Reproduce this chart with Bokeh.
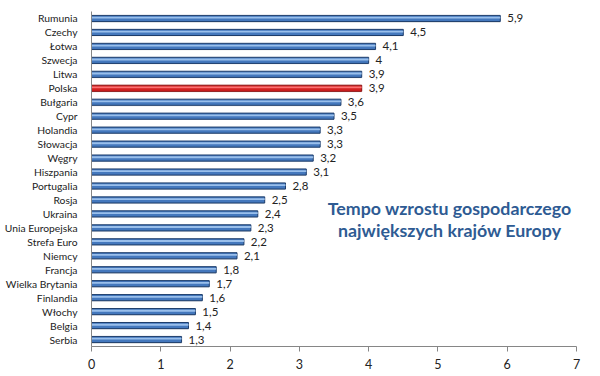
from bokeh.plotting import figure
from bokeh.models import ColumnDataSource, FactorRange, Label, FixedTicker
from bokeh.transform import dodge
from bokeh.core.properties import value
from bokeh.embed import file_html
from bokeh.resources import INLINE

countries = ["Rumunia", "Czechy", "Łotwa", "Szwecja", "Litwa", "Polska", "Bułgaria", "Cypr",
             "Holandia", "Słowacja", "Węgry", "Hiszpania", "Portugalia", "Rosja", "Ukraina",
             "Unia Europejska", "Strefa Euro", "Niemcy", "Francja", "Wielka Brytania",
             "Finlandia", "Włochy", "Belgia", "Serbia"]
growth = [5.9, 4.5, 4.1, 4.0, 3.9, 3.9, 3.6, 3.5, 3.3, 3.3, 3.2, 3.1, 2.8, 2.5, 2.4,
          2.3, 2.2, 2.1, 1.8, 1.7, 1.6, 1.5, 1.4, 1.3]
labels = ["5,9", "4,5", "4,1", "4", "3,9", "3,9", "3,6", "3,5", "3,3", "3,3", "3,2", "3,1",
          "2,8", "2,5", "2,4", "2,3", "2,2", "2,1", "1,8", "1,7", "1,6", "1,5", "1,4", "1,3"]
highlight = "Polska"
x_ticks = [0, 1, 2, 3, 4, 5, 6, 7]
title_lines = ["Tempo wzrostu gospodarczego", "największych krajów Europy"]

fill = ["#d42020" if c == highlight else "#4478bd" for c in countries]
edge = ["#8a0e0e" if c == highlight else "#1d3d6b" for c in countries]
shine = ["#ff7a7a" if c == highlight else "#a3c6f0" for c in countries]

src = ColumnDataSource(dict(cat=countries, val=growth, lab=labels, fill=fill, edge=edge,
                            shine=shine, lx=[v + 0.1 for v in growth]))

p = figure(width=600, height=376, output_backend="svg", toolbar_location=None,
           y_range=FactorRange(factors=list(reversed(countries)), range_padding=0),
           x_range=(0, 7), min_border_left=91, min_border_right=24,
           min_border_top=11, min_border_bottom=30)
p.outline_line_color = None
p.xgrid.grid_line_color = None
p.ygrid.grid_line_color = None
p.background_fill_color = "white"
p.border_fill_color = "white"

# shadow
p.hbar(y=dodge("cat", -0.13, range=p.y_range), left=0, right="val", height=0.3,
       source=src, fill_color="#9a9a9a", fill_alpha=0.35, line_color=None)
p.hbar(y="cat", left=0, right="val", height=0.44, source=src,
       fill_color="fill", line_color="edge", line_width=1)
p.hbar(y=dodge("cat", 0.06, range=p.y_range), left=0, right="val", height=0.13,
       source=src, fill_color="shine", fill_alpha=0.9, line_color=None)

p.text(x="lx", y="cat", text="lab", source=src, text_font=value("Lato"),
       text_font_size="11.5px", text_color="#222222", text_baseline="middle",
       text_align="left")

p.xaxis.ticker = FixedTicker(ticks=x_ticks)
p.xaxis.axis_line_color = "#868686"
p.xaxis.major_tick_line_color = "#868686"
p.xaxis.major_tick_in = 0
p.xaxis.major_tick_out = 5
p.xaxis.minor_tick_line_color = None
p.xaxis.major_label_text_font = "Lato"
p.xaxis.major_label_text_font_size = "12.5px"
p.xaxis.major_label_text_color = "#222222"
p.xaxis.major_label_standoff = 7

p.yaxis.axis_line_color = "#868686"
p.yaxis.major_tick_line_color = None
p.yaxis.major_label_text_font = "Lato"
p.yaxis.major_label_text_font_size = "10.3px"
p.yaxis.major_label_text_color = "#222222"
p.yaxis.major_label_standoff = 8

for t, yv in zip(title_lines, [9.95, 8.35]):
    p.add_layout(Label(x=5.17, y=yv, text=t, text_align="center", text_baseline="middle",
                       text_font="Lato", text_font_style="bold", text_font_size="17.8px",
                       text_color="#2e5b93"))

open("out.html", "w").write(file_html(p, INLINE))
